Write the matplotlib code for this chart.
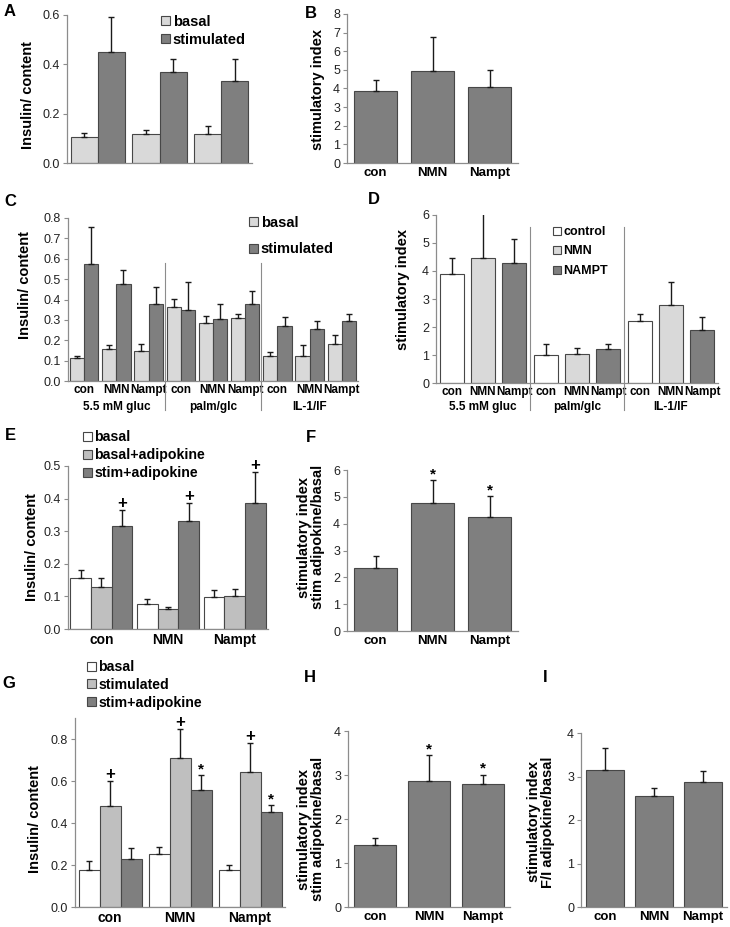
import matplotlib
matplotlib.use("Agg")
import matplotlib.pyplot as plt
from matplotlib.patches import Patch
import numpy as np

plt.rcParams['font.family'] = ['Liberation Sans', 'DejaVu Sans']

W, H = 730, 927

# colours
DARK = '#7f7f7f'
LIGHT = '#d9d9d9'
MID = '#bfbfbf'
WHITE = '#ffffff'
EDGE = '#474747'
SPINE = '#8c8c8c'

groups3 = ['con', 'NMN', 'Nampt']
conditions = ['5.5 mM gluc', 'palm/glc', 'IL-1/IF']

# A: insulin / content
a_basal = [0.106, 0.117, 0.119]
a_basal_err = [0.015, 0.016, 0.029]
a_stim = [0.449, 0.369, 0.334]
a_stim_err = [0.141, 0.054, 0.089]

# B: stimulatory index
b_vals = [3.87, 4.96, 4.07]
b_err = [0.58, 1.80, 0.91]

# C: insulin / content, 3 conditions x 3 treatments
c_labels = groups3 * 3
c_basal = [0.112, 0.156, 0.148, 0.362, 0.286, 0.311, 0.125, 0.123, 0.180]
c_basal_err = [0.013, 0.019, 0.032, 0.039, 0.033, 0.019, 0.018, 0.052, 0.046]
c_stim = [0.574, 0.474, 0.380, 0.350, 0.304, 0.380, 0.271, 0.255, 0.296]
c_stim_err = [0.183, 0.069, 0.082, 0.134, 0.073, 0.064, 0.045, 0.039, 0.033]

# D: stimulatory index, 3 conditions x 3 treatments
d_labels = groups3 * 3
d_vals = [3.89, 4.48, 4.29, 1.00, 1.05, 1.21, 2.21, 2.79, 1.90]
d_err = [0.57, 1.60, 0.84, 0.39, 0.21, 0.17, 0.24, 0.82, 0.47]
d_legend = ['control', 'NMN', 'NAMPT']

# E: adipokine experiment
e_basal = [0.157, 0.078, 0.098]
e_basal_err = [0.025, 0.013, 0.021]
e_badip = [0.130, 0.062, 0.101]
e_badip_err = [0.026, 0.007, 0.021]
e_sadip = [0.317, 0.330, 0.386]
e_sadip_err = [0.049, 0.057, 0.096]

# F: stimulatory index stim adipokine/basal
f_vals = [2.35, 4.76, 4.25]
f_err = [0.45, 0.87, 0.77]

# G: insulin / content
g_basal = [0.177, 0.253, 0.177]
g_basal_err = [0.043, 0.035, 0.021]
g_stim = [0.482, 0.711, 0.645]
g_stim_err = [0.120, 0.138, 0.138]
g_sadip = [0.229, 0.557, 0.451]
g_sadip_err = [0.051, 0.071, 0.033]

# H, I
h_vals = [1.40, 2.86, 2.79]
h_err = [0.17, 0.59, 0.22]
i_vals = [3.14, 2.56, 2.87]
i_err = [0.51, 0.17, 0.26]

fig = plt.figure(figsize=(W / 100, H / 100), dpi=100)


def box(x0, y0, x1, y1):
    return fig.add_axes([x0 / W, 1 - y1 / H, (x1 - x0) / W, (y1 - y0) / H])


def style(ax, n, ymax, yticks, fmt):
    ax.set_xlim(-0.5, n - 0.5)
    ax.set_ylim(0, ymax)
    ax.set_yticks(yticks)
    ax.set_yticklabels([fmt.format(t) for t in yticks])
    for s in ['top', 'right']:
        ax.spines[s].set_visible(False)
    for s in ['left', 'bottom']:
        ax.spines[s].set_color(SPINE)
        ax.spines[s].set_linewidth(0.9)
    ax.tick_params(axis='y', length=3, color=SPINE, labelsize=9, pad=2,
                   labelcolor='#222222')
    ax.tick_params(axis='x', length=0, labelsize=9.5, pad=3)
    ax.patch.set_alpha(0)


def bars(ax, x, vals, errs, color, width):
    ax.bar(x, vals, width, color=color, edgecolor=EDGE, linewidth=0.8,
           yerr=[np.zeros(len(errs)), errs],
           error_kw=dict(ecolor='#1a1a1a', elinewidth=1.0, capsize=2.5, capthick=1.0),
           zorder=2)


def mark(ax, x, vals, errs, sym, size=11):
    for xi, v, e in zip(x, vals, errs):
        ax.annotate(sym, (xi, v + e), xytext=(0, -1), textcoords='offset points',
                    ha='center', va='bottom', fontsize=size, fontweight='bold')


def xlabels(ax, labels, size=9.5):
    ax.set_xticks(np.arange(len(labels)))
    ax.set_xticklabels(labels, fontweight='bold', fontsize=size)


def legend(ax, colors, labels, x, y, spacing, size=10.5):
    handles = [Patch(facecolor=c, edgecolor=EDGE, linewidth=0.8) for c in colors]
    ax.legend(handles, labels, loc='upper left', bbox_to_anchor=(x / W, 1 - y / H),
              bbox_transform=fig.transFigure, frameon=False,
              prop=dict(weight='bold', size=size), handlelength=0.6, handleheight=0.6,
              handletextpad=0.2, labelspacing=spacing, borderpad=0, borderaxespad=0)


def ylab(text, x, y, size=10.5):
    fig.text(x / W, 1 - y / H, text, rotation=90, ha='center', va='center',
             fontsize=size, fontweight='bold', linespacing=1.0)


def letter(text, x, y):
    fig.text(x / W, 1 - y / H, text, ha='center', va='center', fontsize=12,
             fontweight='bold')


x3 = np.arange(3)

# ---- A
ax = box(67, 15, 252, 163)
style(ax, 3, 0.6, [0, 0.2, 0.4, 0.6], '{:.1f}')
bars(ax, x3 - 0.22, a_basal, a_basal_err, LIGHT, 0.44)
bars(ax, x3 + 0.22, a_stim, a_stim_err, DARK, 0.44)
ax.set_xticks([])
legend(ax, [LIGHT, DARK], ['basal', 'stimulated'], 161, 15, 0.25)
ylab('Insulin/ content', 28, 95)
letter('A', 10, 11)

# ---- B
ax = box(347, 14, 518, 163)
style(ax, 3, 8, range(0, 9), '{:d}')
bars(ax, x3, b_vals, b_err, DARK, 0.77)
xlabels(ax, groups3)
ylab('stimulatory index', 318, 89)
letter('B', 311, 14)

# ---- C
x9 = np.arange(9)
ax = box(68, 218, 358, 381)
style(ax, 9, 0.8, np.arange(0, 0.81, 0.1), '{:.1f}')
bars(ax, x9 - 0.22, c_basal, c_basal_err, LIGHT, 0.44)
bars(ax, x9 + 0.22, c_stim, c_stim_err, DARK, 0.44)
xlabels(ax, c_labels, size=8.5)
ax.tick_params(axis='x', pad=2)
for xs in [2.5, 5.5]:
    ax.plot([xs, xs], [-0.18, 0.724], transform=ax.get_xaxis_transform(),
            color=SPINE, lw=0.8, clip_on=False)
for xc, name in zip([1, 4, 7], conditions):
    ax.text(xc, -0.12, name, transform=ax.get_xaxis_transform(), ha='center',
            va='top', fontsize=8.5, fontweight='bold')
legend(ax, [LIGHT, DARK], ['basal', 'stimulated'], 249, 216, 0.85)
ylab('Insulin/ content', 25, 285)
letter('C', 10, 201)

# ---- D
ax = box(436, 215, 718, 383)
style(ax, 9, 6, range(0, 7), '{:d}')
bars(ax, x9, d_vals, d_err, [WHITE, LIGHT, DARK] * 3, 0.77)
xlabels(ax, d_labels, size=8.5)
ax.tick_params(axis='x', pad=2)
for xs in [2.5, 5.5]:
    ax.plot([xs, xs], [-0.16, 0.93], transform=ax.get_xaxis_transform(),
            color=SPINE, lw=0.8, clip_on=False)
for xc, name in zip([1, 4, 7], conditions):
    ax.text(xc, -0.11, name, transform=ax.get_xaxis_transform(), ha='center',
            va='top', fontsize=8.5, fontweight='bold')
legend(ax, [WHITE, LIGHT, DARK], d_legend, 553, 226, 0.6, size=9)
ylab('stimulatory index', 403, 290)
letter('D', 374, 200)

# ---- E
ax = box(68, 466, 268, 629)
style(ax, 3, 0.5, np.arange(0, 0.51, 0.1), '{:.1f}')
bars(ax, x3 - 0.31, e_basal, e_basal_err, WHITE, 0.31)
bars(ax, x3, e_badip, e_badip_err, MID, 0.31)
bars(ax, x3 + 0.31, e_sadip, e_sadip_err, DARK, 0.31)
mark(ax, x3 + 0.31, e_sadip, e_sadip_err, '+', 12)
xlabels(ax, groups3, size=10)
legend(ax, [WHITE, MID, DARK], ['basal', 'basal+adipokine', 'stim+adipokine'],
       83, 430, 0.3, size=10.2)
ylab('Insulin/ content', 32, 547)
letter('E', 10, 435)

# ---- F
ax = box(347, 470, 518, 631)
style(ax, 3, 6, range(0, 7), '{:d}')
bars(ax, x3, f_vals, f_err, DARK, 0.77)
mark(ax, x3[1:], f_vals[1:], f_err[1:], '*')
xlabels(ax, groups3)
ylab('stimulatory index\nstim adipokine/basal', 311, 537)
letter('F', 311, 437)

# ---- G
ax = box(75, 718, 285, 907)
style(ax, 3, 0.9, np.arange(0, 0.81, 0.2), '{:.1f}')
bars(ax, x3 - 0.3, g_basal, g_basal_err, WHITE, 0.3)
bars(ax, x3, g_stim, g_stim_err, MID, 0.3)
bars(ax, x3 + 0.3, g_sadip, g_sadip_err, DARK, 0.3)
mark(ax, x3, g_stim, g_stim_err, '+', 12)
mark(ax, x3[1:] + 0.3, g_sadip[1:], g_sadip_err[1:], '*')
xlabels(ax, groups3, size=10)
legend(ax, [WHITE, MID, DARK], ['basal', 'stimulated', 'stim+adipokine'],
       87, 660, 0.28, size=10.2)
ylab('Insulin/ content', 35, 819)
letter('G', 9, 683)

# ---- H
ax = box(348, 731, 510, 907)
style(ax, 3, 4, range(0, 5), '{:d}')
bars(ax, x3, h_vals, h_err, DARK, 0.78)
mark(ax, x3[1:], h_vals[1:], h_err[1:], '*')
xlabels(ax, groups3)
ylab('stimulatory index\nstim adipokine/basal', 311, 829)
letter('H', 310, 678)

# ---- I
ax = box(581, 733, 727, 907)
style(ax, 3, 4, range(0, 5), '{:d}')
bars(ax, x3, i_vals, i_err, DARK, 0.78)
xlabels(ax, groups3)
ylab('stimulatory index\nF/I adipokine/basal', 541, 822)
letter('I', 545, 677)

fig.savefig('out.png', dpi=100)
